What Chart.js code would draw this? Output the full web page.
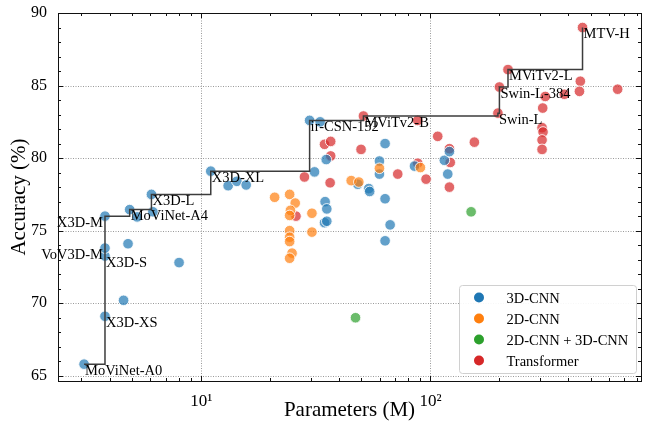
<!DOCTYPE html>
<html><head><meta charset="utf-8">
<script src="https://cdn.jsdelivr.net/npm/chart.js@4.4.0/dist/chart.umd.min.js"></script>
<style>html,body{margin:0;padding:0;background:#fff}#wrap{width:652px;height:425px}</style>
</head><body><div id="wrap"><canvas id="c" width="652" height="425"></canvas></div>
<script>
const seriesNames = ['3D-CNN', '2D-CNN', '2D-CNN + 3D-CNN', 'Transformer'];
const seriesColors = ['#1f77b4', '#ff7f0e', '#2ca02c', '#d62728'];

const cnn3dParams = [3.08,3.8,3.8,3.8,3.8, 4.79,8.0,4.58, 4.87,5.25,6.15,6.06, 11.0,13.1,14.3,15.7, 29.7,33.0,31.2,35.1, 63.4,59.9,59.9,48.2,53.8,54.3,63.4,66.7,63.4, 34.7,35.3,34.5,35.3, 85.2,119,115,121];
const cnn3dAcc    = [65.8,69.1,73.25,73.8,76.0, 74.1,72.8,70.2, 76.45,75.95,76.3,77.5, 79.1,78.1,78.4,78.15, 82.6,82.5,79.05,79.9, 81.0,79.8,78.9,78.2,77.9,77.7,77.2,75.4,74.3, 77.0,76.5,75.55,75.65, 79.45,78.9,79.85,80.45];
const cnn3dNames  = ['MoViNet-A0','X3D-XS','X3D-S','VoV3D-M','X3D-M', '','','', 'MoViNet-A4','','','X3D-L', 'X3D-XL','','','', 'ir-CSN-152','','','', '','','','','','','','','', '','','','', '','','',''];

const cnn2dParams = [20.9,24.3,25.7,24.5,24.3,30.4,24.3,24.3,24.3,24.9,24.3,30.4,59.9,45.1,48.7,90.4];
const cnn2dAcc    = [77.3,77.5,76.9,76.4,76.05,76.2,75.0,74.55,74.25,73.45,73.1,74.9,79.3,78.45,78.35,79.35];
const cnn2dNames  = cnn2dParams.map(() => '');

const hybridParams = [47.1, 150.5];
const hybridAcc    = [69.0, 76.3];
const hybridNames  = ['', ''];

const transParams = [25.9,36.5,28.2,34.5,36.7,36.7,49.8,51,72,88,88,95.7,107.6,121,122,121,155.5,197,200,218,461,451,447,656,317,384,309,307,310,307,307];
const transAcc    = [76.0,78.3,78.7,80.95,81.15,80.15,80.6,82.9,78.9,82.6,79.65,78.55,81.5,80.65,79.7,78.0,81.1,83.1,84.9,86.1,89.0,85.3,84.6,84.75,84.25,84.4,83.45,82.1,81.8,81.25,80.6];
const transNames  = ['','','','','','','','MViTv2-B','','','','','','','','','','Swin-L','Swin-L-384','MViTv2-L','MTV-H','','','','','','','','','',''];

const frontierNames = ['MoViNet-A0','X3D-M','MoViNet-A4','X3D-L','X3D-XL','ir-CSN-152','MViTv2-B','Swin-L','Swin-L-384','MViTv2-L','MTV-H'];
const rightAligned = ['X3D-M', 'VoV3D-M'];

const xTicks = [10, 100];
const xTickLabels = ['10\u00B9', '10\u00B2'];
const yTicks = [65, 70, 75, 80, 85, 90];
const xMin = 2.37, xMax = 829.6, yMin = 64.64, yMax = 90.0;

const series = [
  {params: cnn3dParams, acc: cnn3dAcc, names: cnn3dNames},
  {params: cnn2dParams, acc: cnn2dAcc, names: cnn2dNames},
  {params: hybridParams, acc: hybridAcc, names: hybridNames},
  {params: transParams, acc: transAcc, names: transNames}
];

function rgba(hex, a) {
  const n = parseInt(hex.slice(1), 16);
  return `rgba(${(n>>16)&255},${(n>>8)&255},${n&255},${a})`;
}

const lookup = {};
series.forEach(s => s.names.forEach((n, i) => { if (n) lookup[n] = {x: s.params[i], y: s.acc[i]}; }));
const frontierData = frontierNames.map(n => lookup[n]);

const FONT = "'Liberation Serif', 'DejaVu Serif', serif";
const drawOrder = [3, 2, 1, 4];

const datasets = series.map((s, k) => ({
  type: 'scatter',
  label: seriesNames[k],
  data: s.params.map((p, i) => ({x: p, y: s.acc[i]})),
  backgroundColor: rgba(seriesColors[k], 0.7),
  borderColor: 'rgba(255,255,255,0.85)',
  borderWidth: 1,
  pointRadius: 5.3,
  pointHoverRadius: 5.3,
  order: drawOrder[k]
}));
datasets.push({
  type: 'line',
  label: 'frontier',
  data: frontierData,
  stepped: true,
  borderColor: '#3c3c3c',
  borderWidth: 1.5,
  pointRadius: 0,
  fill: false,
  order: 0
});

const framePlugin = {
  id: 'frame',
  beforeDatasetsDraw(chart) {
    const {ctx, chartArea: a, scales: {x, y}} = chart;
    ctx.save();
    ctx.strokeStyle = '#9a9a9a';
    ctx.lineWidth = 1;
    ctx.setLineDash([1, 1.5]);
    xTicks.forEach(v => {
      const px = Math.round(x.getPixelForValue(v)) + 0.5;
      ctx.beginPath(); ctx.moveTo(px, a.top); ctx.lineTo(px, a.bottom); ctx.stroke();
    });
    yTicks.forEach(v => {
      const py = Math.round(y.getPixelForValue(v)) + 0.5;
      ctx.beginPath(); ctx.moveTo(a.left, py); ctx.lineTo(a.right, py); ctx.stroke();
    });
    ctx.restore();
  },
  afterDatasetsDraw(chart) {
    const {ctx, chartArea: a, scales: {x, y}} = chart;
    ctx.save();
    ctx.strokeStyle = '#111';
    ctx.lineWidth = 1;
    const xs = [];
    for (let d = 1; d <= 1000; d *= 10) for (let k = 1; k <= 9; k++) {
      const v = d * k;
      if (v >= xMin && v <= xMax) xs.push({v, major: k === 1});
    }
    xs.forEach(t => {
      const px = Math.round(x.getPixelForValue(t.v)) + 0.5;
      const L = t.major ? 5 : 3;
      ctx.beginPath();
      ctx.moveTo(px, a.bottom); ctx.lineTo(px, a.bottom - L);
      ctx.moveTo(px, a.top); ctx.lineTo(px, a.top + L);
      ctx.stroke();
    });
    for (let v = Math.ceil(yMin); v <= yMax; v++) {
      const py = Math.round(y.getPixelForValue(v)) + 0.5;
      const L = v % 5 === 0 ? 5 : 3;
      ctx.beginPath();
      ctx.moveTo(a.left, py); ctx.lineTo(a.left + L, py);
      ctx.moveTo(a.right, py); ctx.lineTo(a.right - L, py);
      ctx.stroke();
    }
    ctx.strokeRect(Math.round(a.left) + 0.5, Math.round(a.top) + 0.5, Math.round(a.right - a.left), Math.round(a.bottom - a.top));
    ctx.restore();
  }
};

const labelPlugin = {
  id: 'ptlabels',
  afterDatasetsDraw(chart) {
    const {ctx, scales: {x, y}} = chart;
    ctx.save();
    ctx.font = `14.5px ${FONT}`;
    ctx.fillStyle = '#000';
    ctx.textBaseline = 'alphabetic';
    series.forEach(s => s.names.forEach((n, i) => {
      if (!n) return;
      const px = x.getPixelForValue(s.params[i]);
      const py = y.getPixelForValue(s.acc[i]);
      const right = rightAligned.includes(n);
      ctx.textAlign = right ? 'right' : 'left';
      ctx.fillText(n, right ? px - 2 : px + 1, py + 10.5);
    }));
    ctx.restore();
  }
};

const legendPlugin = {
  id: 'customLegend',
  afterDraw(chart) {
    const {ctx, chartArea: a} = chart;
    const w = 177, h = 88;
    const rx = a.right - 5, by = a.bottom - 8;
    const lx = rx - w, ty = by - h;
    ctx.save();
    ctx.fillStyle = 'rgba(255,255,255,0.92)';
    ctx.strokeStyle = '#d0d0d0';
    ctx.lineWidth = 1;
    ctx.beginPath();
    ctx.roundRect(lx + 0.5, ty + 0.5, w, h, 3);
    ctx.fill(); ctx.stroke();
    ctx.font = `14.5px ${FONT}`;
    ctx.textAlign = 'left';
    ctx.textBaseline = 'alphabetic';
    seriesNames.forEach((name, k) => {
      const cy = ty + 12.5 + k * 21;
      ctx.fillStyle = seriesColors[k];
      ctx.beginPath(); ctx.arc(lx + 20, cy, 5, 0, Math.PI * 2); ctx.fill();
      ctx.fillStyle = '#000';
      ctx.fillText(name, lx + 47.5, cy + 5);
    });
    ctx.restore();
  }
};

new Chart(document.getElementById('c'), {
  type: 'scatter',
  data: {datasets},
  options: {
    responsive: false,
    animation: false,
    devicePixelRatio: 1,
    events: [],
    layout: {padding: {top: 13, right: 11, left: 0, bottom: 0}},
    plugins: {legend: {display: false}, tooltip: {enabled: false}},
    scales: {
      x: {
        type: 'logarithmic',
        position: 'bottom',
        min: xMin, max: xMax,
        grid: {display: false},
        border: {display: false},
        afterBuildTicks: s => { s.ticks = xTicks.map(v => ({value: v})); },
        afterFit: s => { s.height = 44; },
        ticks: {
          autoSkip: false, maxRotation: 0, padding: 2,
          color: '#000',
          font: {family: FONT, size: 17},
          callback: v => { const i = xTicks.indexOf(v); return i >= 0 ? xTickLabels[i] : ''; }
        },
        title: {display: true, text: 'Parameters (M)', color: '#000', font: {family: FONT, size: 21}, padding: {top: 0, bottom: 2}}
      },
      y: {
        type: 'linear',
        position: 'left',
        min: yMin, max: yMax,
        grid: {display: false},
        border: {display: false},
        afterBuildTicks: s => { s.ticks = yTicks.map(v => ({value: v})); },
        afterFit: s => { s.width = 58; },
        ticks: {
          autoSkip: false, padding: 3,
          color: '#000',
          font: {family: FONT, size: 16},
          callback: v => String(v)
        },
        title: {display: true, text: 'Accuracy (%)', color: '#000', font: {family: FONT, size: 21}, padding: {top: 7, bottom: 0}}
      }
    }
  },
  plugins: [framePlugin, labelPlugin, legendPlugin]
});
</script>
</body></html>
